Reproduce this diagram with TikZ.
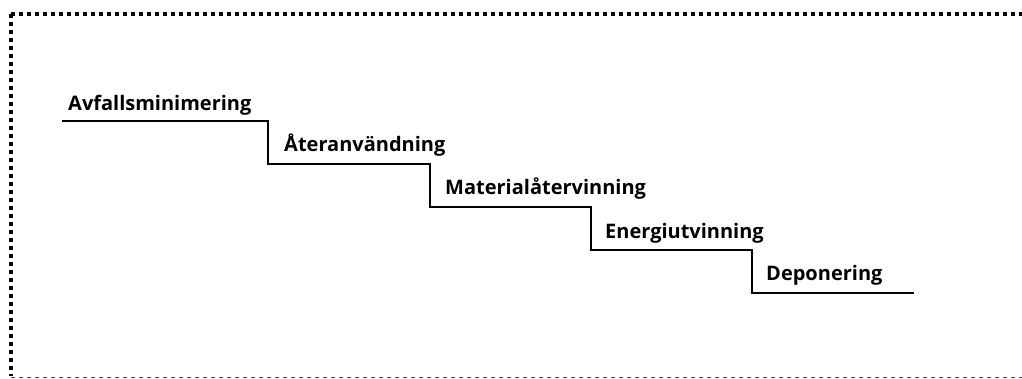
\documentclass[tikz,border=0pt]{standalone}
\usepackage{fontspec}
\setmainfont{Open Sans}
\begin{document}
\begin{tikzpicture}[x=1pt,y=-1pt,
  lbl/.style={anchor=base west,inner sep=0pt,font=\fontsize{20}{22}\selectfont\bfseries},
  stair/.style={line width=2pt,line cap=rect,line join=miter},
  dotborder/.style={line width=3.5pt,dash pattern=on 3.5pt off 4.5pt},
  dashborder/.style={line width=1pt,draw=black!70,dash pattern=on 4pt off 4pt}]
\useasboundingbox (0,0) rectangle (1022,378);
\draw[dotborder] (11,14) -- (1030,14);
\draw[dotborder] (11,14) -- (11,376);
\draw[dashborder] (11,377) -- (1030,377);
\coordinate (s0) at (63,121);
\coordinate (s1) at (268,121);
\coordinate (s2) at (268,164);
\coordinate (s3) at (430,164);
\coordinate (s4) at (430,207);
\coordinate (s5) at (591,207);
\coordinate (s6) at (591,250);
\coordinate (s7) at (752,250);
\coordinate (s8) at (752,293);
\coordinate (s9) at (913,293);
\draw[stair] (s0) -- (s1) -- (s2) -- (s3) -- (s4) -- (s5) -- (s6) -- (s7) -- (s8) -- (s9);
\node[lbl] (t1) at (68,110) {Avfallsminimering};
\node[lbl] (t2) at (284,151) {Återanvändning};
\node[lbl] (t3) at (445,194) {Materialåtervinning};
\node[lbl] (t4) at (605,238) {Energiutvinning};
\node[lbl] (t5) at (766,280) {Deponering};
\end{tikzpicture}
\end{document}
